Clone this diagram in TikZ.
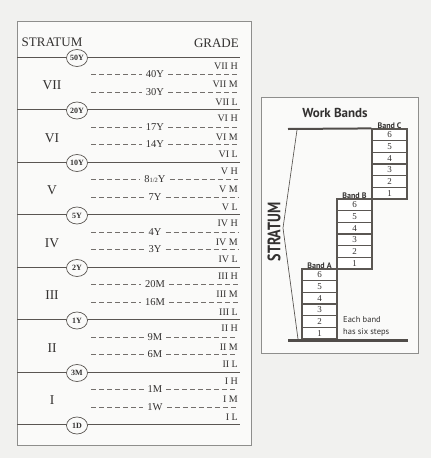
\documentclass[tikz,border=0pt]{standalone}
\usepackage{fontspec}
\usepackage{graphicx}
\setmainfont{Liberation Serif}
\setsansfont{PT Sans}
\usetikzlibrary{shapes.geometric}
\definecolor{paper}{HTML}{F1F1EF}
\definecolor{boxin}{HTML}{FAFAF9}
\definecolor{inkline}{HTML}{5A5652}
\definecolor{boxline}{HTML}{8E8E8C}
\definecolor{inktext}{HTML}{333130}
\newcommand\myhalfY{8{\fontsize{6.5}{7}\selectfont 1/2}Y}
\begin{document}
\begin{tikzpicture}[x=1pt,y=-1pt,
  frame/.style={draw=boxline, line width=0.8pt, fill=boxin},
  stratline/.style={draw=inkline, line width=1pt},
  dashline/.style={draw=inkline!85, line width=0.7pt, dash pattern=on 5pt off 3pt},
  agelabel/.style={font=\fontsize{10.5}{12}\selectfont, text=inktext, inner sep=4pt},
  gradelabel/.style={font=\fontsize{10}{12}\selectfont, anchor=east, inner sep=0pt, text=inktext},
  romanlabel/.style={font=\fontsize{13.5}{16}\selectfont, text=inktext},
  headlabel/.style={font=\fontsize{13}{15}\selectfont, text=inktext, inner sep=0pt},
  agecircle/.style={ellipse, draw=inkline, fill=boxin, line width=0.7pt, minimum width=21pt, minimum height=17pt, inner sep=0pt, font=\fontsize{8}{9}\selectfont\bfseries, text=inktext},
  stepbox/.style={draw=inkline, line width=1.2pt, fill=white, minimum width=35pt, minimum height=11.667pt, inner sep=0pt, font=\fontsize{9}{10}\selectfont, text=inktext},
  bandlabel/.style={font=\sffamily\bfseries\fontsize{8}{9}\selectfont, text=inktext, inner sep=1pt},
  thinline/.style={draw=inkline, line width=0.7pt},
  heavyline/.style={draw=inkline!90!black, line width=2pt},
  groundline/.style={draw=inkline!90!black, line width=3pt}
]
\useasboundingbox (0,0) rectangle (431,458);
\fill[paper] (0,0) rectangle (431,458);

% ---------- left chart ----------
\draw[frame] (17,21) rectangle (251,445);
\node[headlabel] (stratumhead) at (52,42) {STRATUM};
\node[headlabel, anchor=east] (gradehead) at (239,43) {GRADE};

\foreach \r/\t/\a/\b/\i in {VII/57/40Y/30Y/7, VI/109.5/17Y/14Y/6, V/162/\myhalfY/7Y/5, IV/214.5/4Y/3Y/4, III/267/20M/16M/3, II/319.5/9M/6M/2, I/372/1M/1W/1}{
  \node[romanlabel] (S\i) at (52,\t+28.5) {\r};
  \node[agelabel] (A\i) at (155,\t+17.5) {\a};
  \coordinate (AL\i) at (91,\t+17.5);
  \coordinate (AR\i) at (238,\t+17.5);
  \draw[dashline] (AL\i) -- (A\i.west);
  \draw[dashline] (A\i.east) -- (AR\i);
  \node[agelabel] (B\i) at (155,\t+35) {\b};
  \coordinate (BL\i) at (91,\t+35);
  \coordinate (BR\i) at (238,\t+35);
  \draw[dashline] (BL\i) -- (B\i.west);
  \draw[dashline] (B\i.east) -- (BR\i);
  \node[gradelabel] (GH\i) at (238,\t+9) {\r\ H};
  \node[gradelabel] (GM\i) at (238,\t+27.5) {\r\ M};
  \node[gradelabel] (GL\i) at (238,\t+45) {\r\ L};
}

\foreach \y/\lab/\i in {57/50Y/8, 109.5/20Y/7, 162/10Y/6, 214.5/5Y/5, 267/2Y/4, 319.5/1Y/3, 372/3M/2, 424.5/1D/1}{
  \coordinate (LL\i) at (17,\y);
  \coordinate (LR\i) at (240,\y);
  \draw[stratline] (LL\i) -- (LR\i);
  \node[agecircle] (C\i) at (77,\y+1) {\lab};
}

% ---------- right panel ----------
\draw[frame] (261,97) rectangle (418,353);
\node[font=\sffamily\bfseries\fontsize{13}{15}\selectfont, text=inktext] (wb) at (335,113) {Work Bands};

\foreach \bx/\by/\bn in {319.5/339/A, 354.5/269/B, 389.5/199/C}{
  \foreach \k in {1,...,6}{
    \node[stepbox] (\bn\k) at (\bx,\by-\k*11.667+5.833) {\k};
  }
  \node[bandlabel, anchor=south] (lab\bn) at ([yshift=-1.5pt]\bn6.north) {Band \bn};
}

\coordinate (topL) at (288,129);
\draw[heavyline] (topL) -- (C6.north west);
\coordinate (gL) at (288,340);
\coordinate (gR) at (408,340);
\draw[groundline] (gL) -- (gR);

\coordinate (br1) at (297,130);
\coordinate (br2) at (283,228);
\coordinate (br3) at (298,339);
\draw[thinline] (br1) -- (br2) -- (br3);

\node[rotate=90, font=\sffamily\bfseries\fontsize{18}{20}\selectfont, text=inktext, inner sep=0pt] (strat) at (274,232) {\scalebox{0.78}[1]{STRATUM}};

\node[anchor=north west, align=left, font=\sffamily\fontsize{8.5}{12}\selectfont, text=inktext, inner sep=0pt] (note) at (343,316) {Each band\\has six steps};
\end{tikzpicture}
\end{document}
